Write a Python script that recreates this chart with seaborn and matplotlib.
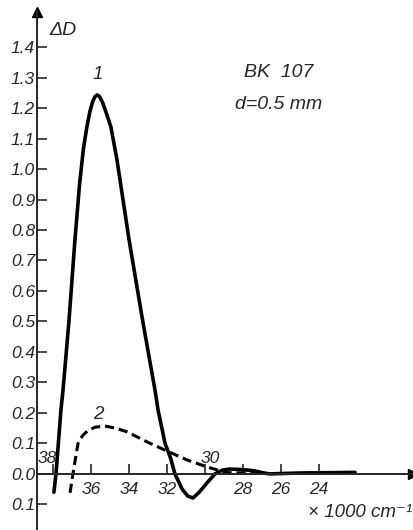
import pandas as pd
import seaborn as sns
import matplotlib.pyplot as plt

# wavenumber (x 1000 cm-1) and Delta D
wn1 = [37.95, 37.84, 37.58, 37.47, 37.16, 36.84, 36.6, 36.4, 36.21, 36.05, 35.9,
       35.78, 35.68, 35.55, 35.4, 35.2, 34.95, 34.63, 34.0, 33.3, 32.63,
       32.47, 32.1, 31.8, 31.58, 31.2, 30.9, 30.63, 30.3, 29.9, 29.47,
       29.1, 28.7, 28.0, 27.4, 26.9, 26.6, 25.0, 22.1]
dd1 = [-0.06, 0.0, 0.21, 0.275, 0.5, 0.77, 0.95, 1.065, 1.14, 1.19, 1.223,
       1.238, 1.243, 1.238, 1.22, 1.185, 1.138, 1.03, 0.77, 0.51, 0.275,
       0.21, 0.10, 0.05, 0.0, -0.05, -0.073, -0.079, -0.06, -0.03, 0.0,
       0.012, 0.016, 0.014, 0.01, 0.003, 0.0, 0.003, 0.005]

wn2 = [37.1, 36.95, 36.68, 36.45, 36.2, 35.8, 35.26, 34.7, 34.1, 33.05,
       32.0, 30.95, 29.9, 28.85, 27.5, 26.8]
dd2 = [-0.062, 0.0, 0.10, 0.125, 0.14, 0.153, 0.157, 0.15, 0.138, 0.105,
       0.075, 0.046, 0.023, 0.004, 0.003, 0.002]

yticks = [-0.1, 0.0, 0.1, 0.2, 0.3, 0.4, 0.5, 0.6, 0.7, 0.8, 0.9, 1.0, 1.1, 1.2, 1.3, 1.4]
ylabels = ['0.1', '0.0', '0.1', '0.2', '0.3', '0.4', '0.5', '0.6', '0.7', '0.8',
           '0.9', '1.0', '1.1', '1.2', '1.3', '1.4']
xticks = [38, 36, 34, 32, 30, 28, 26, 24]
xlabels = ['', '36', '34', '32', '', '28', '26', '24']

sns.set_style('ticks')
plt.rcParams['font.family'] = ['Liberation Sans', 'DejaVu Sans']
plt.rcParams['font.style'] = 'italic'

df1 = pd.DataFrame({'wn': wn1, 'dd': dd1})
df2 = pd.DataFrame({'wn': wn2, 'dd': dd2})

fig = plt.figure(figsize=(4.13, 5.30), dpi=100)
ax = fig.add_axes([37 / 413, 0, 376 / 413, 518 / 530])

sns.lineplot(data=df1, x='wn', y='dd', ax=ax, color='black', lw=2.6, sort=False)
sns.lineplot(data=df2, x='wn', y='dd', ax=ax, color='black', lw=2.2, sort=False,
             linestyle=(0, (3, 1.6)))

ax.set_xlim(38.84, 19.05)
ax.set_ylim(-0.184, 1.515)

ax.spines['top'].set_visible(False)
ax.spines['right'].set_visible(False)
ax.spines['bottom'].set_position(('data', 0))
for s in ['left', 'bottom']:
    ax.spines[s].set_linewidth(1.4)

ax.set_yticks(yticks)
ax.set_yticklabels(ylabels)
ax.set_xticks(xticks)
ax.set_xticklabels(xlabels)
ax.tick_params(axis='both', direction='in', length=7, width=1.2, labelsize=12.5)
ax.tick_params(axis='y', pad=1.5)
ax.tick_params(axis='x', pad=6)
ax.set_xlabel('')
ax.set_ylabel('')

# arrow heads
ax.plot(0, 1, marker='^', color='black', ms=7, transform=ax.transAxes, clip_on=False)
ax.plot(1, 0, marker='>', color='black', ms=7, transform=ax.get_yaxis_transform(), clip_on=False)

ax.text(38.3, 0.05, '38', fontsize=12.5, ha='center', va='center')
ax.text(29.7, 0.05, '30', fontsize=12.5, ha='center', va='center')
ax.text(35.63, 1.31, '1', fontsize=13.5, ha='center', va='center')
ax.text(35.6, 0.195, '2', fontsize=13.5, ha='center', va='center')
ax.text(38.2, 1.455, 'ΔD', fontsize=14, ha='left', va='center')
ax.text(26.1, 1.315, 'BK  107', fontsize=14, ha='center', va='center')
ax.text(26.1, 1.21, 'd=0.5 mm', fontsize=14, ha='center', va='center')
ax.text(19.1, -0.125, '× 1000 cm⁻¹', fontsize=13.5, ha='right', va='center')

fig.savefig('out.png', dpi=100)
